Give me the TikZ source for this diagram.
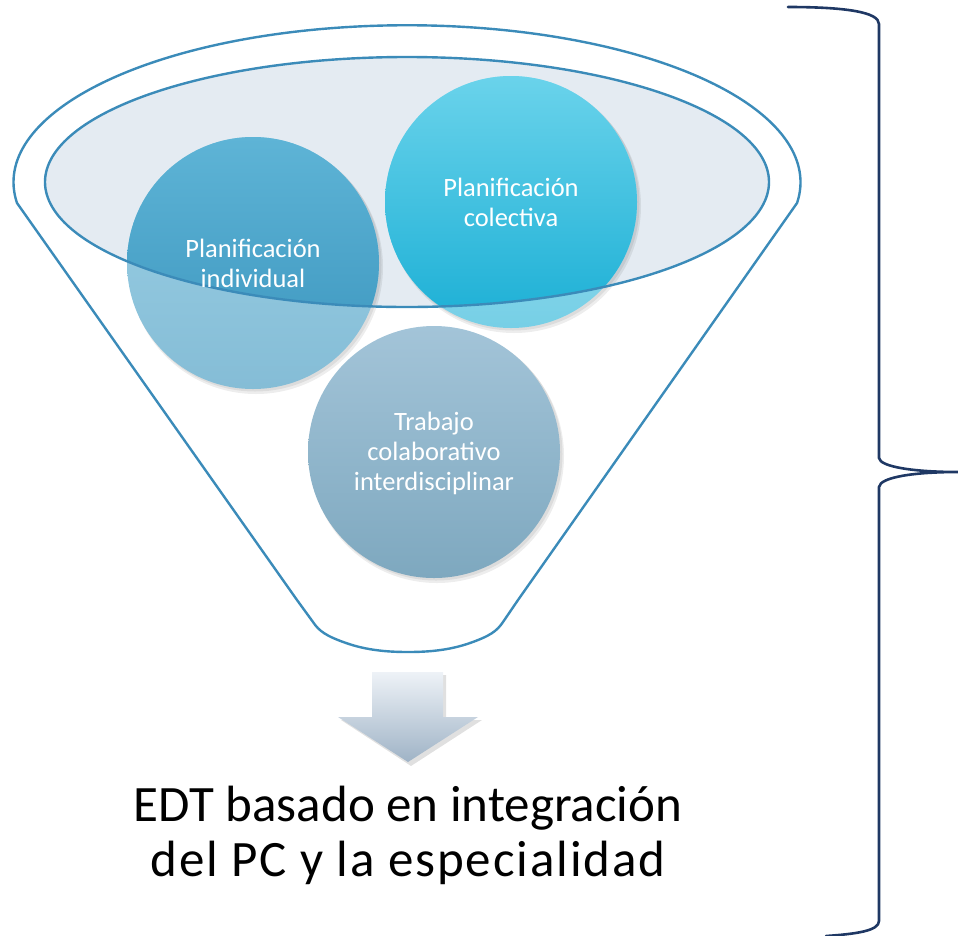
\documentclass[tikz,border=0pt]{standalone}
\usepackage{fontspec}
\setmainfont{Carlito}
\definecolor{funnelblue}{HTML}{3B8BB9}
\definecolor{navy}{HTML}{1F3864}
\definecolor{ellfill}{HTML}{E4EBF2}
\definecolor{aTop}{HTML}{5EB4D6}
\definecolor{aBot}{HTML}{3A94BD}
\definecolor{bTop}{HTML}{6AD3EB}
\definecolor{bBot}{HTML}{1BAFD5}
\definecolor{cTop}{HTML}{A3C4D8}
\definecolor{cBot}{HTML}{7EA8BF}
\definecolor{arTop}{HTML}{EEF2F7}
\definecolor{arBot}{HTML}{9FB3C6}
\begin{document}
\begin{tikzpicture}[x=1pt,y=-1pt,
  funnel/.style={draw=funnelblue, line width=2.4pt, line join=round},
  bracestyle/.style={draw=navy, line width=2.6pt, line cap=round},
  circtext/.style={text=white, align=center, font=\fontsize{26.5}{30}\selectfont},
  bigtext/.style={text=black, align=center, font=\fontsize{51}{55}\selectfont},
  softshadow/.style={fill=black, opacity=0.07}]
\useasboundingbox (0,0) rectangle (958,935);

% outer funnel outline
\draw[funnel] (17,203) arc[start angle=187.6, end angle=-7.6, x radius=393.5pt, y radius=157pt]
  -- (518,600) -- (503,622)
  .. controls (497,631) and (490,636) .. (470,643)
  .. controls (450,650) and (430,652) .. (408,652)
  .. controls (386,652) and (366,650) .. (346,643)
  .. controls (326,636) and (319,631) .. (313,622)
  -- (297,600) -- cycle;

% inner ellipse fill
\fill[ellfill] (407,182) ellipse[x radius=362pt, y radius=125pt];

% shadows
\foreach \c/\r in {{(253,263)}/126, {(511,202)}/126, {(434,452)}/126}{
  \fill[softshadow] \c ++(3,4) circle[radius=127pt];
  \fill[softshadow] \c ++(2,2) circle[radius=126.5pt];
}

% lighter (outside ellipse) versions of top circles
\shade[top color=aTop!62!white, bottom color=aBot!62!white] (253,263) circle[radius=126pt];
\shade[top color=bTop!60!white, bottom color=bBot!60!white] (511,202) circle[radius=126pt];
% inside ellipse: full colour
\begin{scope}
  \clip (407,182) ellipse[x radius=362pt, y radius=125pt];
  \shade[top color=aTop, bottom color=aBot] (253,263) circle[radius=126pt];
  \shade[top color=bTop, bottom color=bBot] (511,202) circle[radius=126pt];
\end{scope}
\shade[top color=cTop, bottom color=cBot] (434,452) circle[radius=126pt];

% inner ellipse outline
\draw[funnel] (407,182) ellipse[x radius=362pt, y radius=125pt];

% circle texts
\node[circtext] (t1) at (253,263) {Planificación\\individual};
\node[circtext] (t2) at (511,202) {Planificación\\colectiva};
\node[circtext] (t3) at (434,453) {Trabajo\\colaborativo\\interdisciplinar};

% block arrow
\fill[black, opacity=0.12] (375,675) -- (446,675) -- (446,720) -- (482,720) -- (411,766) -- (341,720) -- (375,720) -- cycle;
\shade[top color=arTop, bottom color=arBot] (372,672) -- (443,672) -- (443,717) -- (478,717) -- (408,762) -- (338,717) -- (372,717) -- cycle;

% result text
\node[bigtext] (res) at (408,835) {EDT basado en integración\\{\addfontfeature{LetterSpace=3.7}del PC y la especialidad}};

% brace
\coordinate (bt) at (788,7);
\coordinate (bm) at (958,472);
\coordinate (bb) at (826,936);
\draw[bracestyle] (bt) .. controls (845,7) and (879,12) .. (879,24)
  -- (879,458) .. controls (880,467) and (915,472) .. (bm)
  .. controls (915,472) and (880,477) .. (879,487)
  -- (879,921) .. controls (879,931) and (855,934) .. (bb);
\end{tikzpicture}
\end{document}
